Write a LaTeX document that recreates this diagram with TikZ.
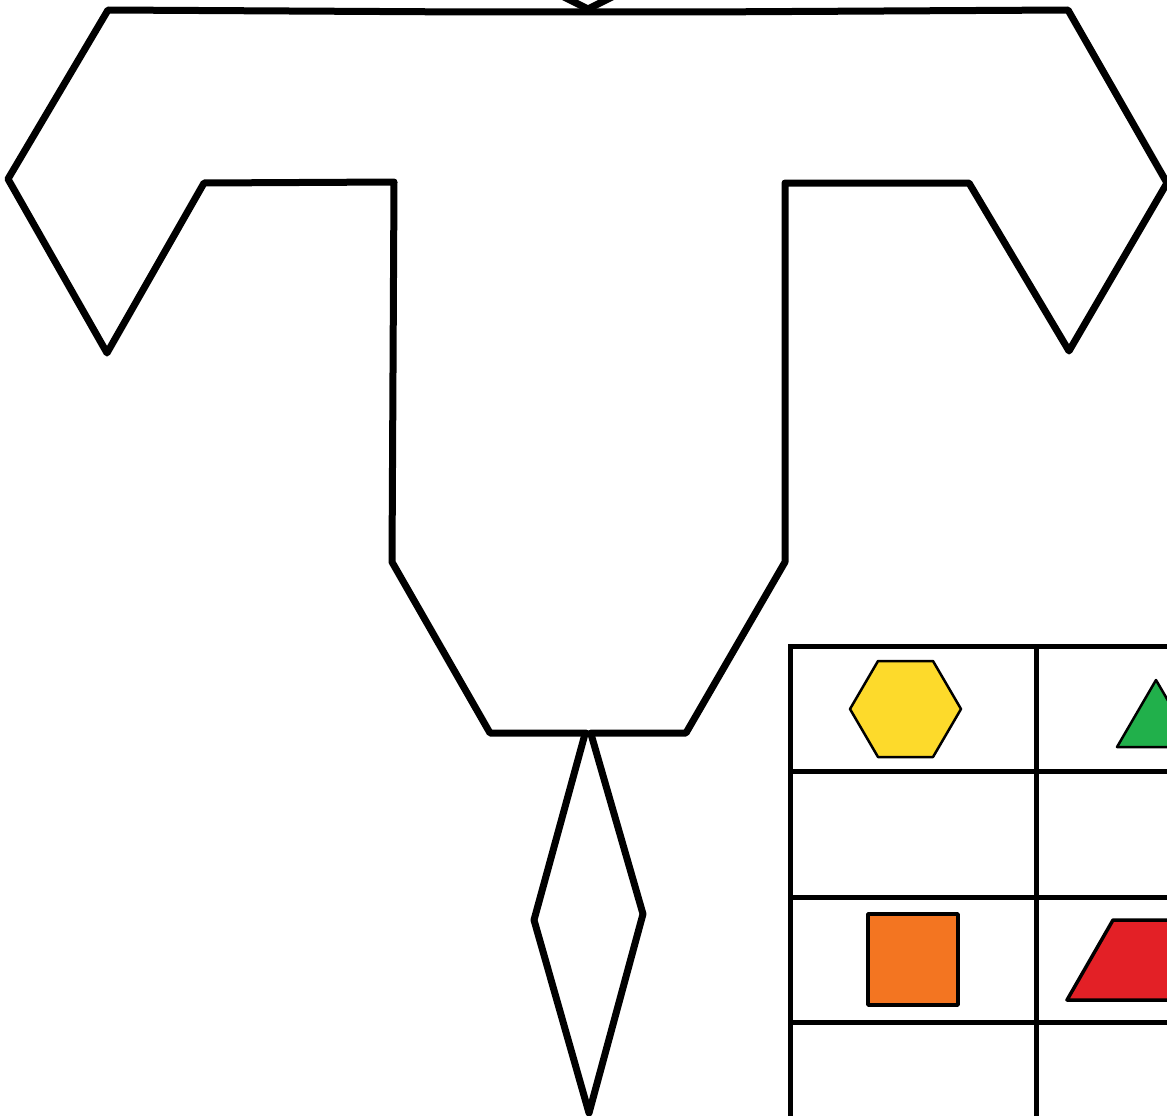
\documentclass[tikz,border=0pt]{standalone}
\definecolor{hexyellow}{HTML}{FDDA2B}
\definecolor{trigreen}{HTML}{21B04B}
\definecolor{sqorange}{HTML}{F37521}
\definecolor{trapred}{HTML}{E32026}
\tikzset{
  outline/.style={draw=black, line width=7pt, line join=round, line cap=round},
  grid/.style={draw=black, line width=5pt},
  piece/.style={draw=black, line width=2.5pt, line join=round}
}
\begin{document}
\begin{tikzpicture}[x=1pt,y=-1pt]
\useasboundingbox (0,0) rectangle (1167,1116);
\clip (0,0) rectangle (1167,1116);
% table grid
\draw[grid] (790,646) -- (1180,646);
\draw[grid] (790,771) -- (1180,771);
\draw[grid] (790,897) -- (1180,897);
\draw[grid] (790,1022) -- (1180,1022);
\draw[grid] (790,644) -- (790,1130);
\draw[grid] (1036,644) -- (1036,1130);
% coloured pieces
\draw[piece, fill=hexyellow] (850,709) -- (878,661) -- (933,661) -- (961,709) -- (933,757) -- (878,757) -- cycle;
\draw[piece, fill=trigreen] (1117,747) -- (1156,680) -- (1195,747) -- cycle;
\draw[piece, fill=sqorange, line width=3.5pt] (868,914) rectangle (958,1005);
\draw[piece, fill=trapred, line width=3.5pt] (1067,1000) -- (1113,920) -- (1200,920) -- (1200,1000) -- cycle;
% big outline
\draw[outline] (586,733) -- (490,733) -- (392,562) -- (394,182) -- (204,183) -- (107,353) -- (8,179) -- (108,10)
  -- (470,12) -- (700,12) -- (1068,10) -- (1167,183) -- (1069,351) -- (969,183) -- (785,183) -- (785,562) -- (686,733) -- (591,733);
% diamond below
\draw[outline] (585,734) -- (534,920) -- (589,1113) -- (643,914) -- (591,734);
% partial shape at top
\draw[outline] (562,-4) -- (588,9) -- (614,-4);
\end{tikzpicture}
\end{document}
